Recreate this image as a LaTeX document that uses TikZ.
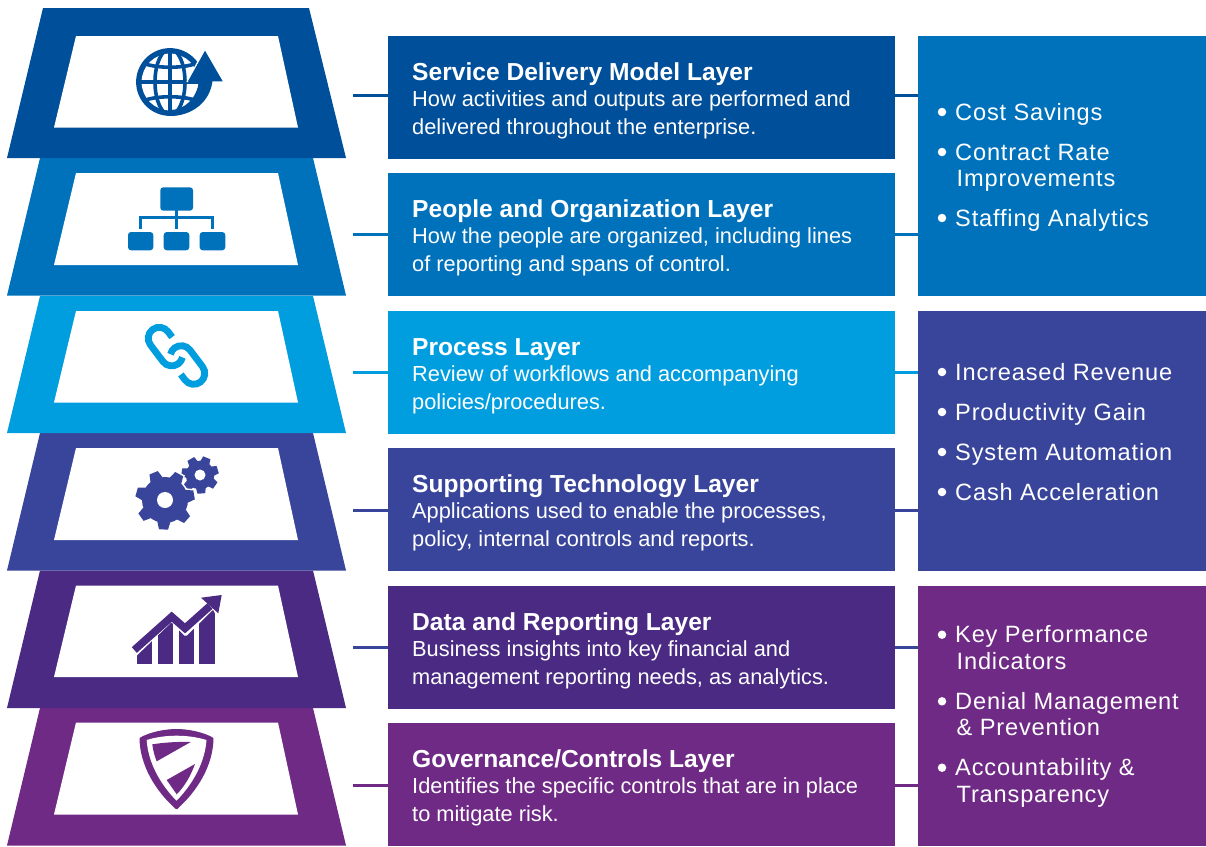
\documentclass[tikz,border=0pt]{standalone}
\usepackage{fontspec}
\setmainfont{Liberation Sans}
\newfontfamily\listfont[LetterSpace=3.5]{Liberation Sans}
\definecolor{cA}{HTML}{004F9A}
\definecolor{cB}{HTML}{0072BC}
\definecolor{cC}{HTML}{009EDF}
\definecolor{cD}{HTML}{39459B}
\definecolor{cE}{HTML}{4A2A83}
\definecolor{cF}{HTML}{6F2A85}
\tikzset{
  layerbox/.style={rectangle,inner sep=0pt,outer sep=0pt,minimum width=507pt,minimum height=122.5pt},
  sidebox/.style={rectangle,inner sep=0pt,outer sep=0pt,minimum width=288pt,minimum height=259.5pt},
  headtext/.style={anchor=base west,inner sep=0pt,text=white,font=\fontsize{24.6}{27}\selectfont\bfseries},
  bodytext/.style={anchor=base west,inner sep=0pt,text=white,font=\fontsize{21.8}{27}\selectfont},
  listtext/.style={anchor=base west,inner sep=0pt,text=white,font=\listfont\fontsize{23.6}{27}\selectfont},
  conn/.style={line width=3pt},
  dot/.style={circle,fill=white,inner sep=0pt,minimum size=8.5pt}
}
% #1 colour, #2 top of visible trapezoid, #3 top x-inset left, #4 right, #5 bottom y, #6 inner top, #7 inner bottom
\newcommand{\trapz}[7]{%
  \fill[#1] (#3,#2) -- (#4,#2) -- (346,#5) -- (7,#5) -- cycle;
  \fill[white] (76,#6) -- (278,#6) -- (298,#7) -- (54,#7) -- cycle;
}
% #1 name, #2 colour, #3 box centre y, #4 top y, #5 head, #6 line1, #7 line2, #8 connector y, #9 side box
\newcommand{\layerrow}[9]{%
  \node[layerbox,fill=#2] (#1) at (641.5,#3) {};
  \coordinate (#1c) at (353,#8);
  \draw[conn,draw=#2] (#1c) -- (#1.west |- #1c);
  \draw[conn,draw=#2] (#1.east |- #1c) -- (#9.west |- #1c);
  \path (412,#4) ++(0,44) node[headtext] (#1h) {#5};
  \path (412,#4) ++(0,70.4) node[bodytext] (#1a) {#6};
  \path (412,#4) ++(0,98) node[bodytext] (#1b) {#7};
}
% #1 name #2 first-line baseline #3 text
\newcommand{\bul}[3]{%
  \node[listtext] (#1) at (955,#2) {#3};
  \path (942,#2) ++(0,-8) node[dot] (#1d) {};
}
\newcommand{\contl}[3]{\node[listtext] (#1) at (956.5,#2) {#3};}
% #1 x, #2 y, #3 body r, #4 base half, #5 tip half, #6 tip r, #7 hole, #8 start angle, #9 halo
\newcommand{\gearicon}[9]{%
  \begin{scope}[shift={(#1,#2)},x=1pt,y=1pt]
    \fill[cD,draw=#9,line width=3pt] (0,0) circle[radius=#3];
    \foreach \k in {0,...,6}{
      \pgfmathsetmacro{\ang}{#8+51.43*\k}
      \fill[cD,draw=#9,line width=3pt,rotate=\ang] (#3-1,-#4) -- (#6,-#5) -- (#6,#5) -- (#3-1,#4) -- cycle;
    }
    \fill[cD] (0,0) circle[radius=#3];
    \foreach \k in {0,...,6}{
      \pgfmathsetmacro{\ang}{#8+51.43*\k}
      \fill[cD,rotate=\ang] (#3-1,-#4) -- (#6,-#5) -- (#6,#5) -- (#3-1,#4) -- cycle;
    }
    \fill[white] (0,0) circle[radius=#7];
  \end{scope}
}
\begin{document}
\begin{tikzpicture}[x=1pt,y=-1pt]
\useasboundingbox (0,0) rectangle (1206,846);
\fill[white] (0,0) rectangle (1206,846);

% stacked frames
\trapz{cF}{708}{40}{313}{845.5}{722.5}{814.5}
\trapz{cE}{570.5}{40}{313}{708}{585.5}{677}
\trapz{cD}{433}{40}{313}{570.5}{448}{540}
\trapz{cC}{296}{40}{313}{433}{311}{402.5}
\trapz{cB}{158}{40}{313}{295.5}{173}{265}
\trapz{cA}{8}{43}{309}{158}{36}{127.5}

% side boxes
\node[sidebox,fill=cB] (r1) at (1062,165.75) {};
\node[sidebox,fill=cD] (r2) at (1062,440.75) {};
\node[sidebox,fill=cF] (r3) at (1062,715.75) {};

% rows
\layerrow{l1}{cA}{97.25}{36}{Service Delivery Model Layer}{How activities and outputs are performed and}{delivered throughout the enterprise.}{95}{r1}
\layerrow{l2}{cB}{234.25}{173}{People and Organization Layer}{How the people are organized, including lines}{of reporting and spans of control.}{234.5}{r1}
\layerrow{l3}{cC}{372.25}{311}{Process Layer}{Review of workflows and accompanying}{policies/procedures.}{372.5}{r2}
\layerrow{l4}{cD}{509.25}{448}{Supporting Technology Layer}{Applications used to enable the processes,}{policy, internal controls and reports.}{510}{r2}
\layerrow{l5}{cE}{647.25}{586}{Data and Reporting Layer}{Business insights into key financial and}{management reporting needs, as analytics.}{647.5}{r3}
\layerrow{l6}{cF}{784.25}{723}{Governance/Controls Layer}{Identifies the specific controls that are in place}{to mitigate risk.}{785}{r3}
% connector of the data row keeps the blue tone
\draw[conn,draw=cD] (l5c) -- (l5.west |- l5c);
\draw[conn,draw=cD] (l5.east |- l5c) -- (r3.west |- l5c);

% lists
\bul{a1}{120}{Cost Savings}
\bul{a2}{160}{Contract Rate}
\contl{a2b}{186}{Improvements}
\bul{a3}{226}{Staffing Analytics}
\bul{b1}{380}{Increased Revenue}
\bul{b2}{420}{Productivity Gain}
\bul{b3}{460}{System Automation}
\bul{b4}{500}{Cash Acceleration}
\bul{c1}{642.7}{Key Performance}
\contl{c1b}{669.3}{Indicators}
\bul{c2}{709.3}{Denial Management}
\contl{c2b}{735.7}{\& Prevention}
\bul{c3}{775.7}{Accountability \&}
\contl{c3b}{802.3}{Transparency}

% globe icon
\fill[cA] (170,82) circle[radius=33.9];
\fill[white] (170,82) circle[radius=28.4];
\begin{scope}
  \clip (170,82) circle[radius=29];
  \draw[cA,line width=3.6pt] (170,48) -- (170,116);
  \draw[cA,line width=3.6pt] (136,82) -- (204,82);
  \draw[cA,line width=3.6pt] (170,82) ellipse[x radius=15,y radius=33];
  \draw[cA,line width=3.6pt] (140,62) .. controls (155,69) and (185,69) .. (200,62);
  \draw[cA,line width=3.6pt] (140,102) .. controls (155,95) and (185,95) .. (200,102);
\end{scope}
\fill[cA] (212.5,81) .. controls (210,102) and (192,116) .. (170,116) -- (170,110) .. controls (185,110) and (197,98) .. (199,81) -- cycle;
\draw[white,line width=1.6pt] (187,82) -- (204,51);
\fill[cA] (205,50.7) -- (222.7,81.3) -- (188,81.3) -- cycle;

% org chart icon
\fill[cB,rounded corners=3pt] (160.3,187.3) rectangle (193,210.7);
\fill[cB,rounded corners=3pt] (128,232) rectangle (153.3,250.3);
\fill[cB,rounded corners=3pt] (163.7,232) rectangle (189.3,250.3);
\fill[cB,rounded corners=3pt] (199.7,232) rectangle (225.3,250.3);
\draw[cB,line width=3.4pt] (176.5,210) -- (176.5,228.5);
\draw[cB,line width=3.4pt] (140.5,228.5) -- (140.5,217.7) -- (212.6,217.7) -- (212.6,228.5);

% chain icon
\begin{scope}[shift={(165.5,346.6)},x=1pt,y=1pt,rotate=-53]
  \draw[cC,line width=6.8pt] (-3.6,11) -- (-10.4,11) arc[start angle=90,end angle=270,radius=11] -- (10.4,-11) arc[start angle=-90,end angle=40,radius=11];
\end{scope}
\begin{scope}[shift={(187.5,365)},x=1pt,y=1pt,rotate=-53]
  \draw[cC,line width=6.8pt] (3.6,-11) -- (10.4,-11) arc[start angle=-90,end angle=90,radius=11] -- (-10.4,11) arc[start angle=90,end angle=220,radius=11];
\end{scope}

% gears icon
\gearicon{200}{475}{12.8}{3.5}{2.6}{17}{5.5}{17}{cD}
\gearicon{165}{500}{23}{6.5}{4.5}{29.5}{8}{-93}{white}

% chart icon
\begin{scope}
  \clip (137,655.5) -- (171.5,622.5) -- (184,635.5) -- (187,635.5) -- (213,610) -- (215,613) -- (215,664.3) -- (137,664.3) -- cycle;
  \fill[cE] (137,600) rectangle (152.3,664.3);
  \fill[cE] (157.7,600) rectangle (173.3,664.3);
  \fill[cE] (178.7,600) rectangle (194.3,664.3);
  \fill[cE] (199.3,600) rectangle (215,664.3);
\end{scope}
\draw[cE,line width=7.6pt] (134.3,650) -- (171.7,616.7) -- (185,628.3) -- (210,606);
\fill[cE] (221.7,595) -- (201,597.7) -- (218.3,613.3) -- cycle;

% shield icon
\fill[cF,draw=cF,line width=2pt,line join=round] (140.5,738.5) .. controls (150,733) and (165,730) .. (176.5,730) .. controls (188,730) and (203,733) .. (212.5,738.5) .. controls (212,765) and (197,790) .. (176.5,808.3) .. controls (156,790) and (141,765) .. (140.5,738.5) -- cycle;
\fill[white] (146.7,740) .. controls (156,737) and (167,735.7) .. (176.5,735.7) .. controls (186,735.7) and (197,737) .. (206.5,740) .. controls (205,762) and (193,784) .. (176.5,800.7) .. controls (160,784) and (148,762) .. (146.7,740) -- cycle;
\fill[cF] (152.3,744.3) .. controls (164,742.5) and (178,741.5) .. (190.7,742) -- (156.7,761.3) .. controls (154.5,756) and (153,750) .. (152.3,744.3) -- cycle;
\fill[cF] (195,764) -- (166.7,780) -- (176.7,794.3) .. controls (185,786) and (191,775) .. (195,764) -- cycle;
\end{tikzpicture}
\end{document}
